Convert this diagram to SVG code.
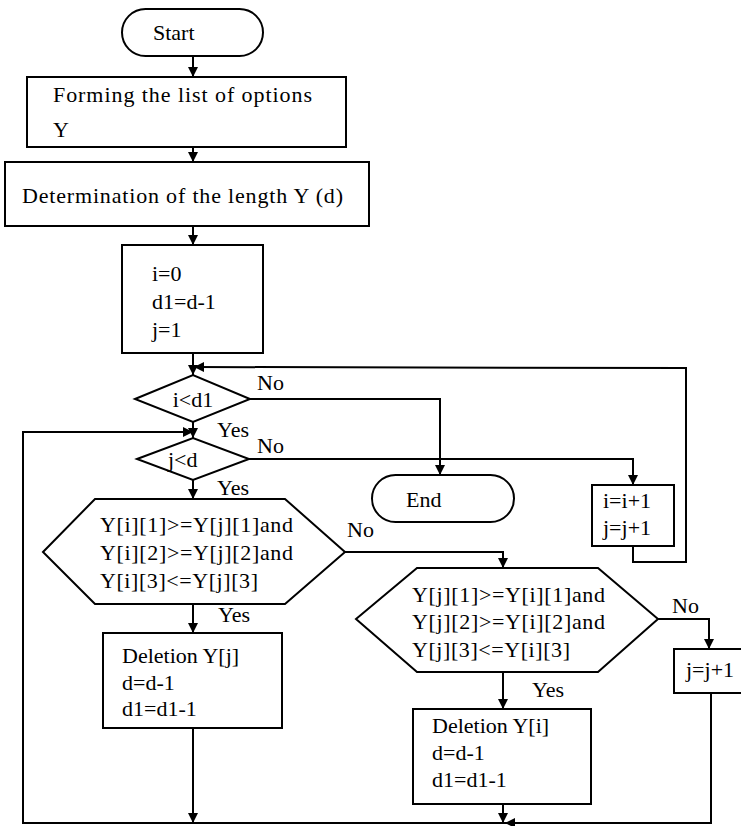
<svg xmlns="http://www.w3.org/2000/svg" width="741" height="826" viewBox="0 0 741 826">
<style>
  .shape { fill: #fff; stroke: #000; stroke-width: 2; }
  .conn { fill: none; stroke: #000; stroke-width: 2; }
  .t { font-family: "Liberation Serif", "DejaVu Serif", serif; font-size: 22px; fill: #000; }
</style>
<defs>
  <marker id="arr" markerUnits="userSpaceOnUse" markerWidth="10" markerHeight="11" refX="10" refY="5" orient="auto">
    <path d="M0,0 L10,5 L0,10 z" fill="#000"/>
  </marker>
</defs>
<rect width="741" height="826" fill="#fff"/>

<g id="connectors">
  <line class="conn" x1="193" y1="56" x2="193" y2="77" marker-end="url(#arr)"/>
  <line class="conn" x1="193" y1="147" x2="193" y2="162" marker-end="url(#arr)"/>
  <line class="conn" x1="193" y1="226" x2="193" y2="245" marker-end="url(#arr)"/>
  <line class="conn" x1="193" y1="353" x2="193" y2="375" marker-end="url(#arr)"/>
  <polyline class="conn" points="633,546 633,562 686,562 686,368 194,367" marker-end="url(#arr)"/>
  <polyline class="conn" points="250,399 440,399 440,475" marker-end="url(#arr)"/>
  <line class="conn" x1="193" y1="422" x2="193" y2="438" marker-end="url(#arr)"/>
  <polyline class="conn" points="249,459 633,459 633,485" marker-end="url(#arr)"/>
  <line class="conn" x1="193" y1="480" x2="193" y2="499" marker-end="url(#arr)"/>
  <polyline class="conn" points="345,552 503,552 503,568" marker-end="url(#arr)"/>
  <line class="conn" x1="193" y1="604" x2="193" y2="633" marker-end="url(#arr)"/>
  <line class="conn" x1="503" y1="672" x2="503" y2="709" marker-end="url(#arr)"/>
  <polyline class="conn" points="658,619 709,619 709,649" marker-end="url(#arr)"/>
  <line class="conn" x1="193" y1="728" x2="193" y2="823" marker-end="url(#arr)"/>
  <line class="conn" x1="503" y1="804" x2="503" y2="823" marker-end="url(#arr)"/>
  <polyline class="conn" points="711,693 711,823 505,823" marker-end="url(#arr)"/>
  <polyline class="conn" points="505,823 23,823 23,432 193,432" marker-end="url(#arr)"/>
  <text class="t" x="257" y="390">No</text>
  <text class="t" x="217" y="437">Yes</text>
  <text class="t" x="257" y="453">No</text>
  <text class="t" x="217" y="495">Yes</text>
  <text class="t" x="347" y="537">No</text>
  <text class="t" x="218" y="622">Yes</text>
  <text class="t" x="672" y="613">No</text>
  <text class="t" x="532" y="697">Yes</text>
</g>

<g id="start">
  <rect class="shape" x="122" y="9" width="141" height="47" rx="23.5" ry="23.5"/>
  <text class="t" x="153" y="40">Start</text>
</g>

<g id="forming">
  <rect class="shape" x="27" y="77" width="319" height="70"/>
  <text class="t" x="53" y="102" textLength="259" lengthAdjust="spacing">Forming the list of options</text>
  <text class="t" x="53" y="137">Y</text>
</g>

<g id="determination">
  <rect class="shape" x="5" y="162" width="364" height="64"/>
  <text class="t" x="22" y="203" textLength="321" lengthAdjust="spacing">Determination of the length Y (d)</text>
</g>

<g id="init">
  <rect class="shape" x="122" y="245" width="141" height="108"/>
  <text class="t" x="152" y="281">i=0</text>
  <text class="t" x="152" y="309">d1=d-1</text>
  <text class="t" x="152" y="337">j=1</text>
</g>

<g id="cond-i">
  <polygon class="shape" points="135,399 193,375 250,399 193,422"/>
  <text class="t" x="193" y="407" text-anchor="middle">i&lt;d1</text>
</g>

<g id="cond-j">
  <polygon class="shape" points="137,459 193,438 249,459 193,480"/>
  <text class="t" x="168" y="467">j&lt;d</text>
</g>

<g id="end">
  <rect class="shape" x="372" y="475" width="142" height="47" rx="23.5" ry="23.5"/>
  <text class="t" x="406" y="507">End</text>
</g>

<g id="inc-ij">
  <rect class="shape" x="592" y="485" width="82" height="61"/>
  <text class="t" x="603" y="508">i=i+1</text>
  <text class="t" x="603" y="535">j=j+1</text>
</g>

<g id="cond-hex1">
  <polygon class="shape" points="43,552 95,499 285,499 345,552 285,604 95,604"/>
  <text class="t" x="100" y="532" textLength="193" lengthAdjust="spacing">Y[i][1]&gt;=Y[j][1]and</text>
  <text class="t" x="100" y="560" textLength="193" lengthAdjust="spacing">Y[i][2]&gt;=Y[j][2]and</text>
  <text class="t" x="100" y="588" textLength="158" lengthAdjust="spacing">Y[i][3]&lt;=Y[j][3]</text>
</g>

<g id="cond-hex2">
  <polygon class="shape" points="356,619 417,568 598,568 658,619 598,672 417,672"/>
  <text class="t" x="412" y="602" textLength="193" lengthAdjust="spacing">Y[j][1]&gt;=Y[i][1]and</text>
  <text class="t" x="412" y="629" textLength="193" lengthAdjust="spacing">Y[j][2]&gt;=Y[i][2]and</text>
  <text class="t" x="412" y="657" textLength="158" lengthAdjust="spacing">Y[j][3]&lt;=Y[i][3]</text>
</g>

<g id="delete-j">
  <rect class="shape" x="103" y="633" width="179" height="95"/>
  <text class="t" x="122" y="663">Deletion Y[j]</text>
  <text class="t" x="122" y="690">d=d-1</text>
  <text class="t" x="122" y="716">d1=d1-1</text>
</g>

<g id="delete-i">
  <rect class="shape" x="413" y="709" width="178" height="95"/>
  <text class="t" x="432" y="733">Deletion Y[i]</text>
  <text class="t" x="432" y="760">d=d-1</text>
  <text class="t" x="432" y="787">d1=d1-1</text>
</g>

<g id="inc-j">
  <rect class="shape" x="674" y="649" width="68" height="44"/>
  <text class="t" x="686" y="677">j=j+1</text>
</g>
</svg>
